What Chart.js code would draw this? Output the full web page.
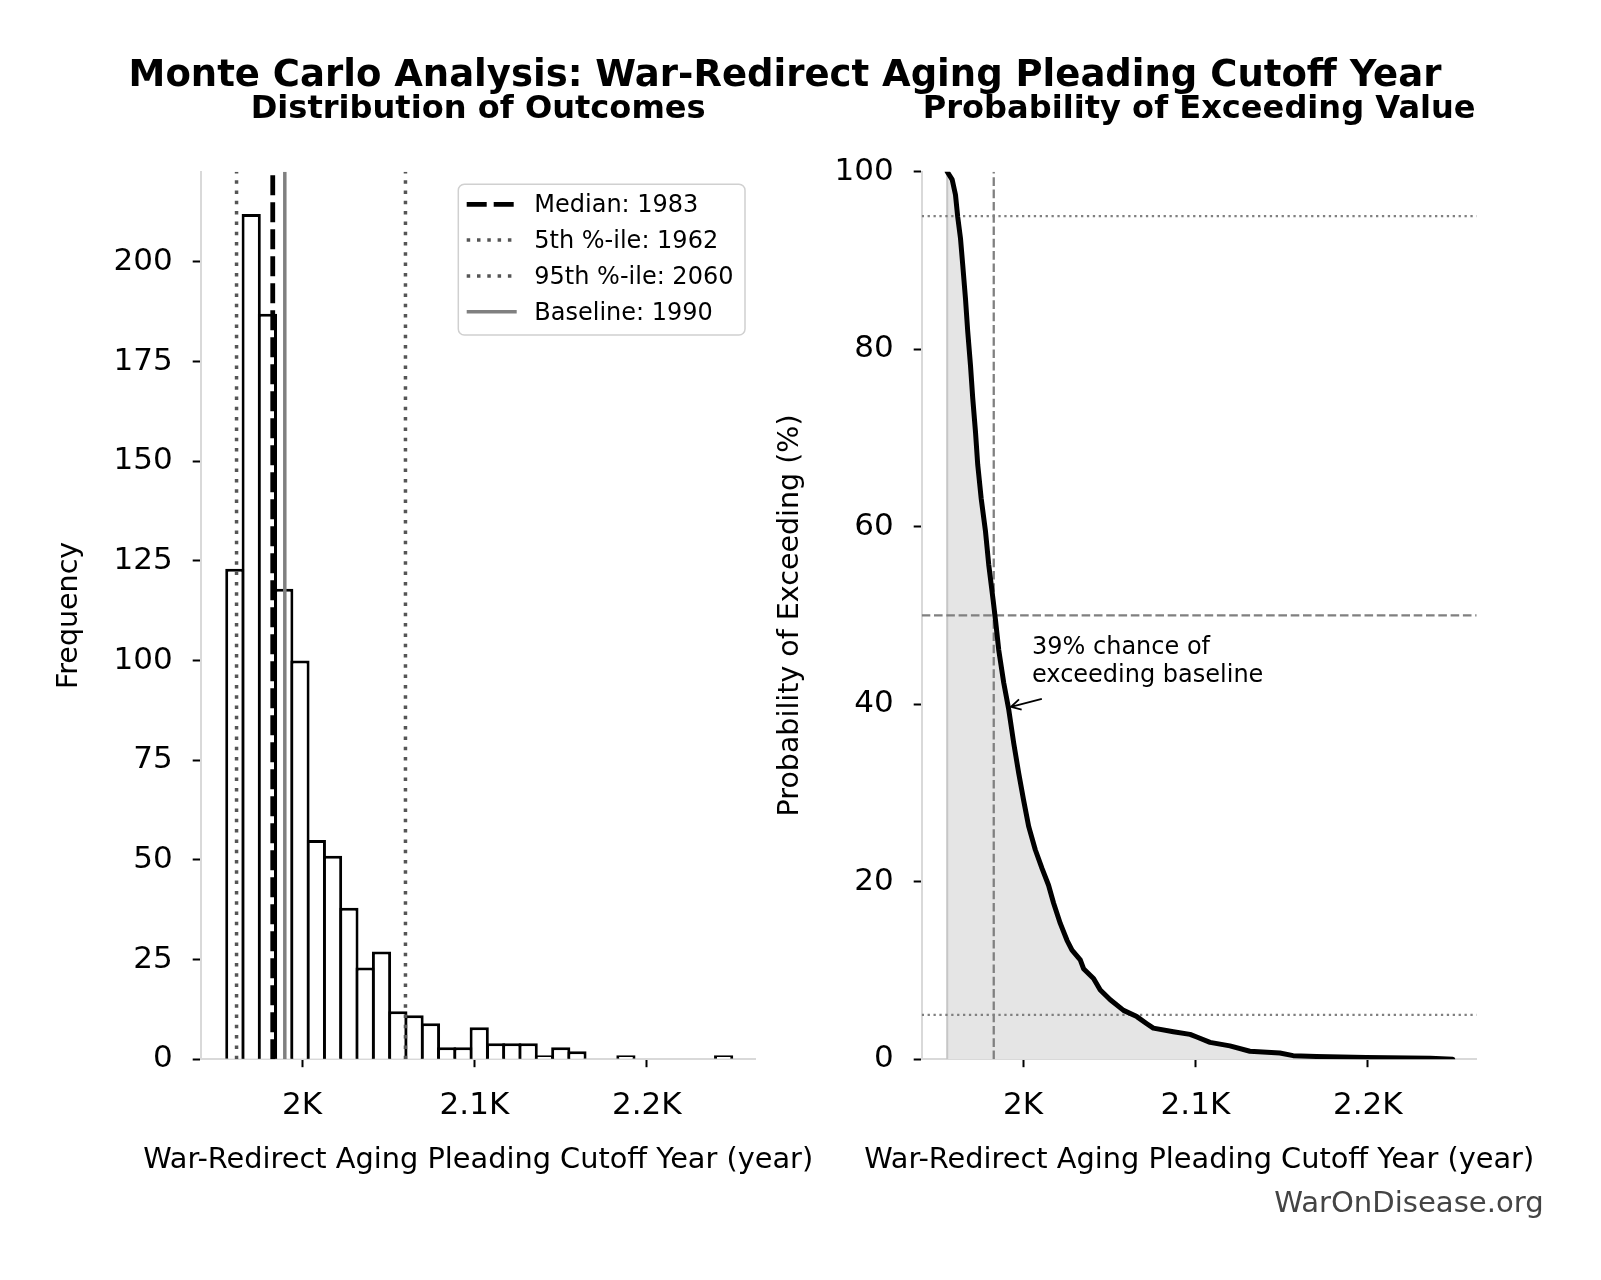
<!DOCTYPE html>
<html>
<head>
<meta charset="utf-8">
<title>Monte Carlo Analysis</title>
<script src="https://cdn.jsdelivr.net/npm/chart.js@4.4.1/dist/chart.umd.min.js"></script>
<style>
  html, body { margin: 0; padding: 0; background: #fff; }
  #wrap { position: relative; width: 1601px; height: 1280px; overflow: hidden; font-family: "DejaVu Sans", sans-serif; }
  canvas { position: absolute; left: 0; top: 0; }
  .txt { position: absolute; white-space: nowrap; line-height: 1; color: #000; }
  .center { transform: translateX(-50%); }
  .bold { font-weight: bold; }
</style>
</head>
<body>
<div id="wrap">
  <canvas id="histChart" width="1601" height="1280"></canvas>
  <canvas id="survChart" width="1601" height="1280"></canvas>
  <div class="txt bold center" style="left:785px; top:54.5px; font-size:37px;">Monte Carlo Analysis: War-Redirect Aging Pleading Cutoff Year</div>
  <div class="txt bold center" style="left:478.2px; top:91.3px; font-size:32.1px;">Distribution of Outcomes</div>
  <div class="txt bold center" style="left:1199.2px; top:91.3px; font-size:32.1px;">Probability of Exceeding Value</div>
  <div class="txt center xlabel" style="left:478.2px; top:1143.6px; font-size:28.8px;"></div>
  <div class="txt center xlabel" style="left:1199.2px; top:1143.6px; font-size:28.8px;"></div>
  <div class="txt" style="right:57.3px; top:1188.4px; font-size:29.1px; color:#444;">WarOnDisease.org</div>
</div>
<script>
// Histogram (left panel)
const binCenters = [1961.0, 1970.5, 1979.9, 1989.4, 1998.8, 2008.3, 2017.7, 2027.2, 2036.6, 2046.1,
  2055.6, 2065.0, 2074.5, 2083.9, 2093.4, 2102.8, 2112.3, 2121.7, 2131.2, 2140.6,
  2150.1, 2159.5, 2169.0, 2178.4, 2187.9, 2197.3, 2206.8, 2216.2, 2225.7, 2235.1, 2244.6];
const binCounts = [123, 212, 187, 118, 100, 55, 51, 38, 23, 27,
  12, 11, 9, 3, 3, 8, 4, 4, 4, 1,
  3, 2, 0, 0, 1, 0, 0, 0, 0, 0, 1];

// Summary statistics shown as vertical lines + legend
const summaryLabels = ["Median", "5th %-ile", "95th %-ile", "Baseline"];
const summaryYears = [1983, 1962, 2060, 1990];

// Exceedance curve (right panel)
const survivalYears = [1956.0, 1958.9, 1960.8, 1962.1, 1963.7, 1965.0, 1966.6, 1967.9, 1969.5, 1970.8,
  1972.4, 1973.7, 1975.7, 1978.2, 1980.1, 1982.6, 1984.0, 1985.9, 1988.8, 1991.7,
  1994.6, 1997.5, 2000.3, 2003.3, 2007.1, 2011.0, 2014.8, 2017.7, 2021.6, 2025.5,
  2028.4, 2033.2, 2035.1, 2040.9, 2044.8, 2050.6, 2058.3, 2066.0, 2071.8, 2075.6,
  2087.2, 2096.9, 2100.8, 2108.5, 2120.0, 2131.6, 2149.0, 2156.7, 2170.2, 2199.2,
  2236.3, 2249.3];
const survivalPercent = [100, 99.1, 97.4, 94.9, 92.5, 89.5, 85.7, 82.0, 78.2, 74.5,
  70.7, 67.0, 63.2, 59.5, 55.7, 51.8, 49.5, 46.1, 42.4, 39.4,
  35.6, 32.2, 29.2, 26.2, 23.6, 21.5, 19.6, 17.6, 15.3, 13.4,
  12.3, 11.2, 10.2, 9.1, 7.8, 6.7, 5.5, 4.8, 4.0, 3.5,
  3.1, 2.8, 2.5, 1.9, 1.5, 0.9, 0.7, 0.4, 0.3, 0.2,
  0.1, 0.0];

// Axes
const yearMin = 1941.2;
const yearMax = 2263.2;
const yearTicks = [2000, 2100, 2200];
const yearTickLabels = ["2K", "2.1K", "2.2K"];
const freqMax = 222.6;
const freqTicks = [0, 25, 50, 75, 100, 125, 150, 175, 200];
const probTicks = [0, 20, 40, 60, 80, 100];
const probDashedRefs = [50];
const probDottedRefs = [95, 5];

// Annotation
const noteLines = ["39% chance of", "exceeding baseline"];
const noteTextAt = [2005.2, 42.5];
const noteTip = [1993.0, 39.7];
const noteTail = [2010.9, 40.6];

const xTitle = "War-Redirect Aging Pleading Cutoff Year (year)";
const FONT = "'DejaVu Sans'";

Chart.defaults.font.family = FONT;
Chart.defaults.color = "#000";

function yearAxis() {
  return {
    type: "linear",
    min: yearMin,
    max: yearMax,
    offset: false,
    afterBuildTicks: (scale) => {
      scale.ticks = yearTicks.map((v) => ({ value: v }));
    },
    afterFit: (scale) => {
      scale.height = 130;
    },
    ticks: {
      font: { size: 31 },
      padding: 20,
      maxRotation: 0,
      callback: (value) => yearTickLabels[yearTicks.indexOf(value)],
    },
    grid: { offset: false, drawOnChartArea: false, tickLength: 8, tickColor: "#000", tickWidth: 2 },
    border: { display: true, color: "#d9d9d9", width: 2 },
    title: { display: false },
  };
}

function valueAxis(max, tickValues, label) {
  return {
    min: 0,
    max: max,
    afterBuildTicks: (scale) => {
      scale.ticks = tickValues.map((v) => ({ value: v }));
    },
    afterFit: (scale) => {
      scale.width = 150;
    },
    ticks: { font: { size: 31 }, padding: 20 },
    grid: { drawOnChartArea: false, tickLength: 8, tickColor: "#000", tickWidth: 2 },
    border: { display: true, color: "#d9d9d9", width: 2 },
    title: { display: true, text: label, font: { size: 28.5 }, padding: { top: 2, bottom: 0 } },
  };
}

const legendPlugin = {
  id: "summaryLegend",
  afterDraw(chart) {
    const { ctx, chartArea } = chart;
    const boxW = 286.7;
    const boxH = 150.7;
    const left = chartArea.right - 10.7 - boxW;
    const top = chartArea.top + 12.6;
    ctx.save();
    ctx.beginPath();
    ctx.roundRect(left, top, boxW, boxH, 6);
    ctx.fillStyle = "rgba(255,255,255,0.8)";
    ctx.fill();
    ctx.lineWidth = 1.5;
    ctx.strokeStyle = "#d0d0d0";
    ctx.stroke();
    summaryLabels.forEach((name, i) => {
      const ds = chart.data.datasets[i];
      const y = top + 20 + i * 35.8;
      ctx.beginPath();
      ctx.setLineDash(ds.borderDash || []);
      ctx.lineWidth = ds.borderWidth;
      ctx.strokeStyle = ds.borderColor;
      ctx.moveTo(left + 8.4, y);
      ctx.lineTo(left + 58.4, y);
      ctx.stroke();
      ctx.setLineDash([]);
      ctx.fillStyle = "#000";
      ctx.font = "24px " + FONT;
      ctx.textBaseline = "alphabetic";
      ctx.fillText(name + ": " + summaryYears[i], left + 76, y + 8);
    });
    ctx.restore();
  },
};

const notePlugin = {
  id: "baselineNote",
  afterDraw(chart) {
    const { ctx } = chart;
    const { x, y } = chart.scales;
    const tipX = x.getPixelForValue(noteTip[0]);
    const tipY = y.getPixelForValue(noteTip[1]);
    const tailX = x.getPixelForValue(noteTail[0]);
    const tailY = y.getPixelForValue(noteTail[1]);
    const ang = Math.atan2(tipY - tailY, tipX - tailX);
    const head = 11;
    const spread = 0.5;
    ctx.save();
    ctx.strokeStyle = "#000";
    ctx.lineWidth = 1.8;
    ctx.beginPath();
    ctx.moveTo(tailX, tailY);
    ctx.lineTo(tipX, tipY);
    ctx.moveTo(tipX - head * Math.cos(ang - spread), tipY - head * Math.sin(ang - spread));
    ctx.lineTo(tipX, tipY);
    ctx.lineTo(tipX - head * Math.cos(ang + spread), tipY - head * Math.sin(ang + spread));
    ctx.stroke();
    ctx.font = "24px " + FONT;
    ctx.fillStyle = "#000";
    ctx.textBaseline = "alphabetic";
    const tx = x.getPixelForValue(noteTextAt[0]);
    const ty = y.getPixelForValue(noteTextAt[1]);
    noteLines.forEach((line, i) => {
      ctx.fillText(line, tx, ty - (noteLines.length - 1 - i) * 28.4);
    });
    ctx.restore();
  },
};

function vline(year, color, width, dash, order) {
  return {
    type: "line",
    data: [{ x: year, y: 0 }, { x: year, y: freqMax }],
    borderColor: color,
    borderWidth: width,
    borderDash: dash,
    pointRadius: 0,
    order: order,
  };
}

function createHistogramChart() {
  const lineStyles = [
    ["#000", 4.8, [20, 7]],
    ["#555", 3.5, [3.5, 6.8]],
    ["#555", 3.5, [3.5, 6.8]],
    ["#808080", 3.5, []],
  ];
  const lines = summaryYears.map((yr, i) => vline(yr, lineStyles[i][0], lineStyles[i][1], lineStyles[i][2], 0));

  return new Chart(document.getElementById("histChart"), {
    type: "bar",
    data: {
      datasets: [
        ...lines,
        {
          type: "bar",
          data: binCenters.map((c, i) => ({ x: c, y: binCounts[i] })),
          backgroundColor: "#fff",
          borderColor: "#000",
          borderWidth: (ctx) => (ctx.parsed && ctx.parsed.y > 0 ? 3 : 0),
          borderSkipped: "start",
          barPercentage: 1.185,
          categoryPercentage: 1,
          order: 1,
        },
      ],
    },
    options: {
      responsive: false,
      animation: false,
      devicePixelRatio: 1,
      layout: { padding: { left: 50.7, right: 1601 - 755.7, top: 171.7, bottom: 90.8 } },
      plugins: { legend: { display: false }, tooltip: { enabled: false } },
      scales: {
        x: yearAxis(),
        y: valueAxis(freqMax, freqTicks, "Frequency"),
      },
    },
    plugins: [legendPlugin],
  });
}

function hline(value, color, width, dash) {
  return {
    data: [{ x: yearMin, y: value }, { x: yearMax, y: value }],
    borderColor: color,
    borderWidth: width,
    borderDash: dash,
    pointRadius: 0,
    fill: false,
    order: 2,
  };
}

function createSurvivalChart() {
  const curve = survivalYears.map((yr, i) => ({ x: yr, y: survivalPercent[i] }));
  const refs = [
    ...probDashedRefs.map((v) => hline(v, "#808080", 2.3, [8.6, 3.7])),
    ...probDottedRefs.map((v) => hline(v, "#808080", 2.3, [2.3, 3.6])),
  ];

  return new Chart(document.getElementById("survChart"), {
    type: "line",
    data: {
      datasets: [
        {
          data: curve,
          borderColor: "#000",
          borderWidth: 5,
          borderJoinStyle: "round",
          borderCapStyle: "round",
          backgroundColor: "#e5e5e5",
          fill: "origin",
          pointRadius: 0,
          tension: 0,
          order: 0,
        },
        {
          data: [{ x: survivalYears[0], y: 0 }, { x: survivalYears[0], y: 100 }],
          borderColor: "#c6c6c6",
          borderWidth: 2,
          pointRadius: 0,
          fill: false,
          order: 3,
        },
        ...refs,
        {
          data: [{ x: summaryYears[0], y: 0 }, { x: summaryYears[0], y: 100 }],
          borderColor: "#808080",
          borderWidth: 2.3,
          borderDash: [8.6, 3.7],
          pointRadius: 0,
          fill: false,
          order: 1,
        },
      ],
    },
    options: {
      responsive: false,
      animation: false,
      devicePixelRatio: 1,
      layout: { padding: { left: 771.7, right: 1601 - 1476.7, top: 171.7, bottom: 90.8 } },
      plugins: {
        legend: { display: false },
        tooltip: { enabled: false },
        filler: { drawTime: "beforeDatasetsDraw" },
      },
      scales: {
        x: yearAxis(),
        y: valueAxis(100, probTicks, "Probability of Exceeding (%)"),
      },
    },
    plugins: [notePlugin],
  });
}

document.addEventListener("DOMContentLoaded", () => {
  document.querySelectorAll(".xlabel").forEach((el) => {
    el.textContent = xTitle;
  });
  try {
    createHistogramChart();
    createSurvivalChart();
  } catch (error) {
    console.error("Error creating charts:", error);
  }
});
</script>
</body>
</html>
